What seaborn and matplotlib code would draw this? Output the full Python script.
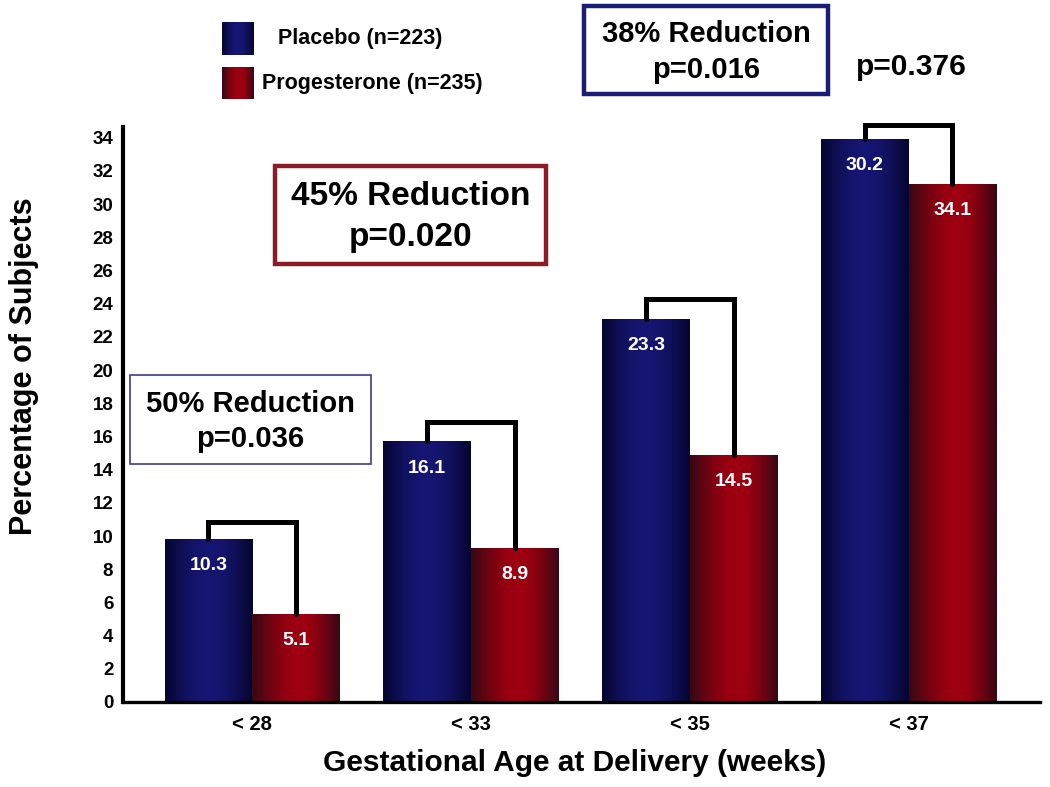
import numpy as np
import pandas as pd
import matplotlib
matplotlib.use("Agg")
import matplotlib.pyplot as plt
import seaborn as sns
from matplotlib.patches import Rectangle

# ---------------- data ----------------
categories = ["< 28", "< 33", "< 35", "< 37"]
groups = ["Placebo (n=223)", "Progesterone (n=235)"]
placebo = [9.8, 15.7, 23.1, 33.9]
progesterone = [5.3, 9.3, 14.9, 31.2]
placebo_labels = ["10.3", "16.1", "23.3", "30.2"]
progesterone_labels = ["5.1", "8.9", "14.5", "34.1"]
bracket_heights = [10.85, 16.85, 24.3, 34.8]
y_ticks = list(range(0, 35, 2))
box_texts = ["50% Reduction\np=0.036", "45% Reduction\np=0.020", "38% Reduction\np=0.016"]
extra_p = "p=0.376"

df = pd.DataFrame({
    "age": categories * 2,
    "group": [groups[0]] * 4 + [groups[1]] * 4,
    "pct": placebo + progesterone,
})

sns.set_theme(style="white")
plt.rcParams["font.family"] = ["Liberation Sans", "DejaVu Sans"]
plt.rcParams["text.color"] = "black"
plt.rcParams["axes.labelcolor"] = "black"
plt.rcParams["xtick.color"] = "black"
plt.rcParams["ytick.color"] = "black"
NARROW = ["Liberation Sans Narrow", "Liberation Sans", "DejaVu Sans"]

W, H = 1050, 787
fig = plt.figure(figsize=(W / 100, H / 100), dpi=100)
fig.patch.set_facecolor("white")


def fx(x):
    return x / W


def fy(y):
    return 1 - y / H


ax = fig.add_axes([fx(123), fy(702), (1040 - 123) / W, (702 - 127) / H])
ax.set_facecolor("white")

blue_mid = "#10106a"
red_mid = "#8c0012"
sns.barplot(data=df, x="age", y="pct", hue="group", palette=[blue_mid, red_mid],
            width=0.8, saturation=1, legend=False, ax=ax, edgecolor="none", linewidth=0)


def gradient(dark, light, n=64, peak=0.5, power=1.2):
    t = np.linspace(0, 1, n)
    f = np.where(t < peak, t / peak, (1 - t) / (1 - peak))
    f = np.sin(f * np.pi / 2) ** power
    dark = np.array(dark) / 255.0
    light = np.array(light) / 255.0
    return dark[None, :] + (light - dark)[None, :] * f[:, None]


blue_grad = gradient((5, 5, 48), (22, 22, 115), peak=0.5, power=1.0)
red_grad = gradient((55, 8, 20), (158, 0, 16), peak=0.55, power=1.0)

for cont, grad in zip(ax.containers, [blue_grad, red_grad]):
    for patch in cont:
        bx = patch.get_x()
        bw = patch.get_width()
        bh = patch.get_height()
        im = ax.imshow(grad[None, :, :], extent=[bx, bx + bw, 0, bh], aspect="auto",
                       interpolation="bilinear", zorder=patch.get_zorder() + 0.1)
        im.set_clip_path(patch)

# value labels
for cont, labels in zip(ax.containers, [placebo_labels, progesterone_labels]):
    for patch, lab in zip(cont, labels):
        cx = patch.get_x() + patch.get_width() / 2
        ax.text(cx, patch.get_height() - 1.6, lab, color="white", fontsize=14,
                fontweight="bold", ha="center", va="center", zorder=5)

# brackets
for pb, gb, bh in zip(ax.containers[0], ax.containers[1], bracket_heights):
    x1 = pb.get_x() + pb.get_width() / 2
    x2 = gb.get_x() + gb.get_width() / 2
    ax.plot([x1, x1, x2, x2], [pb.get_height(), bh, bh, gb.get_height()],
            color="black", lw=3.6, solid_joinstyle="miter", zorder=4, clip_on=False)

ax.set_xlim(-0.59, 3.6)
ax.set_ylim(0, 34.65)
ax.set_yticks(y_ticks)
ax.set_yticklabels([str(v) for v in y_ticks], fontsize=13.5, fontweight="bold")
for lab in ax.get_xticklabels():
    lab.set_fontfamily(NARROW)
    lab.set_fontsize(14.5)
    lab.set_fontweight("bold")
ax.tick_params(axis="y", length=0, pad=7, colors="black")
ax.tick_params(axis="x", length=0, pad=9, colors="black")

for s in ["top", "right"]:
    ax.spines[s].set_visible(False)
ax.spines["left"].set_linewidth(3.0)
ax.spines["bottom"].set_linewidth(2.4)
ax.spines["left"].set_color("black")
ax.spines["bottom"].set_color("black")

ax.set_ylabel("Percentage of Subjects", fontsize=22, fontweight="bold", va="center",
              color="black")
ax.yaxis.set_label_coords((24 - 123) / 917, (702 - 366) / 575)
ax.set_xlabel("Gestational Age at Delivery (weeks)", fontsize=21.5, fontweight="bold",
              va="center", fontfamily=NARROW, color="black")
ax.xaxis.set_label_coords((575 - 123) / 917, -(763 - 702) / 575)

# legend swatches (gradient) and text
for (y0, y1), grad, lab, tx in [((22, 55), blue_grad, groups[0], 278),
                                ((67, 99), red_grad, groups[1], 262)]:
    sax = fig.add_axes([fx(222), fy(y1), 32 / W, (y1 - y0) / H])
    sax.imshow(grad[None, :, :], aspect="auto", interpolation="bilinear")
    sax.set_axis_off()
    fig.text(fx(tx), fy((y0 + y1) / 2), lab, fontsize=15.5, fontweight="bold",
             ha="left", va="center", color="black")

# annotation boxes
boxes = [
    # x0, x1, y0, y1, edgecolor, lw, fontsize, linespacing
    (130, 371, 375, 464, "#3c3c86", 1.2, 21, 1.3),
    (275, 546, 166, 264, "#8c1b28", 3.2, 24, 1.4),
    (584, 828, 6, 94, "#1c1c78", 3.2, 21, 1.35),
]
for (x0, x1, y0, y1, ec, lw, fs, ls), txt in zip(boxes, box_texts):
    fig.add_artist(Rectangle((fx(x0), fy(y1)), (x1 - x0) / W, (y1 - y0) / H,
                             transform=fig.transFigure, facecolor="white",
                             edgecolor=ec, linewidth=lw, zorder=6))
    fig.text(fx((x0 + x1) / 2), fy((y0 + y1) / 2 + 2), txt, fontsize=fs, fontweight="bold",
             ha="center", va="center", linespacing=ls, zorder=7, color="black")

fig.text(fx(911), fy(67), extra_p, fontsize=21.5, fontweight="bold", ha="center",
         va="center", color="black")

fig.savefig("out.png", dpi=100, facecolor="white")
